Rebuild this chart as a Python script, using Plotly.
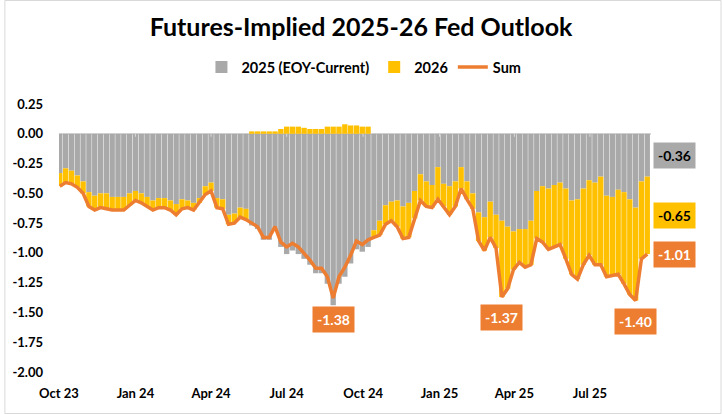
import plotly.graph_objects as go
import pandas as pd

# ---- data (weekly readings) ----
dates = pd.date_range("2023-10-02", periods=102, freq="7D")

eoy_2025 = [
    -0.33, -0.29, -0.31, -0.35, -0.40, -0.49, -0.52, -0.50, -0.50, -0.53,
    -0.53, -0.53, -0.50, -0.48, -0.50, -0.53, -0.56, -0.54, -0.54, -0.56,
    -0.59, -0.55, -0.56, -0.58, -0.54, -0.44, -0.41, -0.54, -0.55, -0.68,
    -0.67, -0.62, -0.63, -0.77, -0.80, -0.89, -0.89, -0.80, -0.95, -1.01,
    -0.98, -1.01, -1.05, -1.10, -1.17, -1.17, -1.26, -1.44, -1.26, -1.20,
    -1.09, -0.97, -0.99, -0.95, -0.81, -0.73, -0.60, -0.57, -0.56, -0.61,
    -0.58, -0.48, -0.34, -0.40, -0.43, -0.28, -0.42, -0.44, -0.40, -0.28,
    -0.40, -0.50, -0.66, -0.70, -0.57, -0.68, -0.73, -0.78, -0.82, -0.80,
    -0.80, -0.73, -0.48, -0.44, -0.46, -0.43, -0.41, -0.46, -0.56, -0.55,
    -0.46, -0.39, -0.41, -0.36, -0.52, -0.53, -0.47, -0.49, -0.55, -0.62,
    -0.40, -0.36,
]

year_2026 = [
    -0.11, -0.12, -0.11, -0.10, -0.10, -0.12, -0.12, -0.12, -0.13, -0.11,
    -0.11, -0.11, -0.10, -0.08, -0.08, -0.08, -0.08, -0.08, -0.08, -0.08,
    -0.09, -0.08, -0.06, -0.06, -0.04, -0.07, -0.07, -0.08, -0.08, -0.08,
    -0.08, -0.08, -0.09, 0.02, 0.02, 0.02, 0.02, 0.02, 0.04, 0.06,
    0.06, 0.06, 0.05, 0.04, 0.04, 0.04, 0.06, 0.06, 0.06, 0.08,
    0.07, 0.07, 0.06, 0.06, -0.06, -0.12, -0.16, -0.16, -0.22, -0.27,
    -0.29, -0.23, -0.22, -0.21, -0.19, -0.27, -0.19, -0.24, -0.21, -0.18,
    -0.15, -0.13, -0.24, -0.28, -0.30, -0.28, -0.64, -0.52, -0.32, -0.28,
    -0.32, -0.37, -0.40, -0.47, -0.51, -0.52, -0.52, -0.59, -0.62, -0.67,
    -0.64, -0.63, -0.69, -0.74, -0.68, -0.66, -0.71, -0.77, -0.80, -0.78,
    -0.65, -0.65,
]

sum_vals = [round(a + b, 2) for a, b in zip(eoy_2025, year_2026)]

x_tick_vals = ["2023-10-01", "2024-01-01", "2024-04-01", "2024-07-01",
               "2024-10-01", "2025-01-01", "2025-04-01", "2025-07-01"]
x_tick_text = ["Oct 23", "Jan 24", "Apr 24", "Jul 24",
               "Oct 24", "Jan 25", "Apr 25", "Jul 25"]
y_tick_vals = [0.25, 0.0, -0.25, -0.5, -0.75, -1.0, -1.25, -1.5, -1.75, -2.0]
y_tick_text = ["0.25", "0.00", "-0.25", "-0.50", "-0.75", "-1.00",
               "-1.25", "-1.50", "-1.75", "-2.00"]

# windows in which the low of the Sum is labelled
low_windows = [("2023-10-01", "2025-01-01"), ("2025-01-01", "2025-06-01"),
               ("2025-06-01", "2025-10-01")]

GRAY = "#A9A9A9"
GOLD = "#FFC000"
ORANGE = "#ED7D31"

W, H = 722, 414
L, R, T, B = 55, 71, 104, 42
PW, PH = W - L - R, H - T - B

fig = go.Figure()
fig.add_trace(go.Bar(x=dates, y=eoy_2025, name="2025 (EOY-Current)",
                     marker=dict(color=GRAY, line=dict(width=0))))
fig.add_trace(go.Bar(x=dates, y=year_2026, name="2026",
                     marker=dict(color=GOLD, line=dict(width=0))))
fig.add_trace(go.Scatter(x=dates, y=sum_vals, name="Sum", mode="lines",
                         line=dict(color=ORANGE, width=3.5)))

annotations = []
s = pd.Series(sum_vals, index=dates)
for a, b in low_windows:
    seg = s[(s.index >= a) & (s.index < b)]
    d = seg.idxmin()
    v = seg.min()
    annotations.append(dict(x=d, y=v, xref="x", yref="y", text=f"{v:.2f}",
                            showarrow=False, yshift=-21, bgcolor=ORANGE,
                            borderpad=4, font=dict(color="white", size=14)))

last_d = dates[-1]
g_last, y_last, s_last = eoy_2025[-1], year_2026[-1], sum_vals[-1]
for val, ypos, bg, fc in [(g_last, g_last / 2, GRAY, "black"),
                          (y_last, g_last + y_last / 2, GOLD, "black"),
                          (s_last, s_last, ORANGE, "white")]:
    annotations.append(dict(x=last_d, y=ypos, xref="x", yref="y",
                            text=f"{val:.2f}", showarrow=False, xshift=27,
                            bgcolor=bg, borderpad=4,
                            font=dict(color=fc, size=14)))

shapes = []
for tv in x_tick_vals[1:]:
    shapes.append(dict(type="line", xref="x", yref="y", x0=tv, x1=tv,
                       y0=0, y1=-0.025, line=dict(color="#D9D9D9", width=1),
                       layer="above"))
shapes.append(dict(type="rect", xref="paper", yref="paper",
                   x0=(-L + 0.5) / PW, x1=1 + (R - 0.5) / PW,
                   y0=(-B + 0.5) / PH, y1=1 + (T - 0.5) / PH,
                   line=dict(color="#D9D9D9", width=1), layer="below"))

fig.update_layout(
    width=W, height=H,
    margin=dict(l=L, r=R, t=T, b=B),
    barmode="relative", bargap=0.08,
    paper_bgcolor="white", plot_bgcolor="white",
    font=dict(family="Lato", size=13, color="black", weight="bold"),
    title=dict(text="Futures-Implied 2025-26 Fed Outlook", x=0.5, xanchor="center",
               y=1 - 27 / H, yanchor="middle", yref="container",
               font=dict(family="Lato", size=25, color="black", weight="bold")),
    legend=dict(orientation="h", x=(362 - L) / PW, xanchor="center",
                y=1 + (T - 67) / PH, yanchor="middle",
                font=dict(size=14.5), traceorder="normal", itemwidth=30),
    xaxis=dict(type="date", range=["2023-10-01", "2025-09-12 12:00"],
               tickvals=x_tick_vals, ticktext=x_tick_text, showgrid=False,
               showline=False, zeroline=False, ticks="", ticklabelstandoff=12),
    yaxis=dict(range=[-2.0, 0.25], tickvals=y_tick_vals, ticktext=y_tick_text,
               showgrid=False, showline=False, zeroline=True,
               zerolinecolor="#D9D9D9", zerolinewidth=1.5, ticks="",
               ticklabelstandoff=15),
    annotations=annotations, shapes=shapes, showlegend=True,
)

fig.write_html("out.html", config={"displayModeBar": False},
               post_script="document.body.style.margin='0';")
